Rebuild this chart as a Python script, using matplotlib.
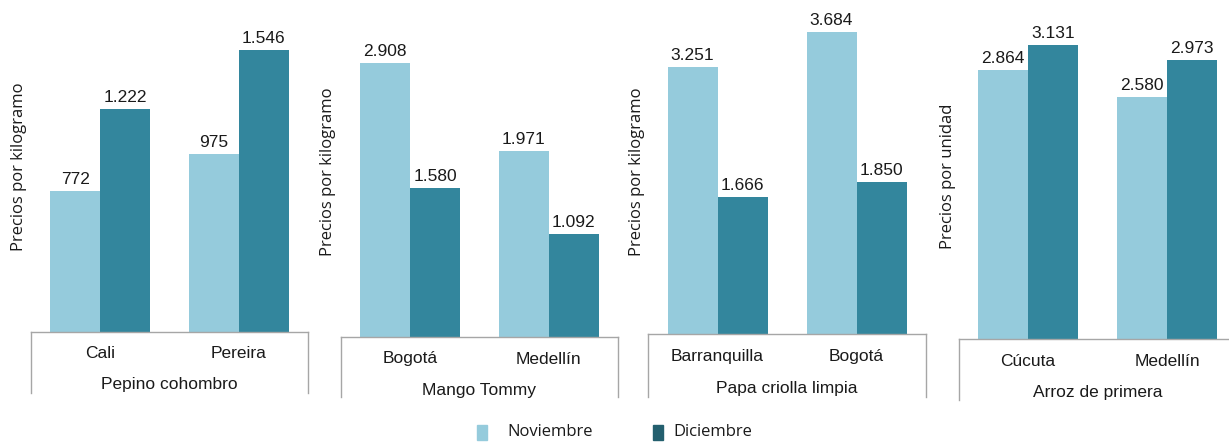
import matplotlib
matplotlib.use("Agg")
import matplotlib.pyplot as plt
import matplotlib.transforms as mtransforms
from matplotlib.patches import Rectangle

W, H = 1229, 442
DPI = 100

products = ["Pepino cohombro", "Mango Tommy", "Papa criolla limpia", "Arroz de primera"]
cities = [["Cali", "Pereira"], ["Bogotá", "Medellín"], ["Barranquilla", "Bogotá"], ["Cúcuta", "Medellín"]]
noviembre = [[772, 975], [2908, 1971], [3251, 3684], [2864, 2580]]
diciembre = [[1222, 1546], [1580, 1092], [1666, 1850], [3131, 2973]]
ylabels = ["Precios por kilogramo", "Precios por kilogramo", "Precios por kilogramo", "Precios por unidad"]
series_names = ["Noviembre", "Diciembre"]

LIGHT = "#95CBDC"
DARK = "#33869D"
LEGEND_DARK = "#235F6E"
BOX = "#A6A6A6"
TXT = "#1a1a1a"

# layout (pixels): left, right, baseline, box bottom, ymax, ylabel x, ylabel y
layout = [
    (31, 308, 332, 393, 1820, 19, 167),
    (341, 618, 337, 397, 3577, 328, 172),
    (648, 926, 334, 397, 4074, 637, 172),
    (958.5, 1236.5, 339, 400, 3610, 948, 176),
]

fig = plt.figure(figsize=(W / DPI, H / DPI), dpi=DPI)
fig.patch.set_facecolor("white")

num_font = "Liberation Sans"
lab_font = "Open Sans"

bar_w_px = 50.0

for i, (l, r, base, bot, ymax, ylx, yly) in enumerate(layout):
    ax = fig.add_axes([l / W, (H - base) / H, (r - l) / W, base / H])
    ax.set_xlim(-0.5, 1.5)
    ax.set_ylim(0, ymax)
    ax.axis("off")
    unit_px = (r - l) / 2.0
    bw = bar_w_px / unit_px
    xs = [0, 1]
    b1 = ax.bar([x - bw / 2 for x in xs], noviembre[i], width=bw, color=LIGHT, linewidth=0)
    b2 = ax.bar([x + bw / 2 for x in xs], diciembre[i], width=bw, color=DARK, linewidth=0)
    for bars, vals in ((b1, noviembre[i]), (b2, diciembre[i])):
        for rect, v in zip(bars, vals):
            lbl = f"{v:,}".replace(",", ".")
            ax.annotate(lbl, (rect.get_x() + rect.get_width() / 2, v),
                        xytext=(0, 3), textcoords="offset points",
                        ha="center", va="bottom", fontsize=12.5,
                        family=num_font, color=TXT)
    # category box
    depth = -(bot - base) / base
    ax.plot([0, 1], [0, 0], transform=ax.transAxes, color=BOX, lw=1.0, clip_on=False)
    ax.plot([0, 0], [0, depth], transform=ax.transAxes, color=BOX, lw=1.0, clip_on=False)
    ax.plot([1, 1], [0, depth], transform=ax.transAxes, color=BOX, lw=1.0, clip_on=False)
    trans = mtransforms.blended_transform_factory(ax.transData, ax.transAxes)
    for x, c in zip(xs, cities[i]):
        ax.text(x, -22 / base, c, transform=trans, ha="center", va="center",
                fontsize=12.5, family=num_font, color=TXT, clip_on=False)
    ax.text(0.5, -(52 + (i > 0) * 2) / base, products[i], transform=trans, ha="center",
            va="center", fontsize=12.5, family=num_font, color=TXT, clip_on=False)
    fig.text(ylx / W, 1 - yly / H, ylabels[i], rotation=90, ha="center", va="center",
             fontsize=12, family=lab_font, color=TXT)

# legend
legend_items = [(477, LIGHT, series_names[0], 507), (653, LEGEND_DARK, series_names[1], 673)]
for sx, col, name, tx in legend_items:
    fig.patches.append(Rectangle((sx / W, 1 - 440 / H), 10 / W, 15 / H,
                                 transform=fig.transFigure, color=col, figure=fig))
    fig.text(tx / W, 1 - 432 / H, name, ha="left", va="center", fontsize=12,
             family=lab_font, color=TXT)

fig.savefig("out.png", dpi=DPI, facecolor="white")
